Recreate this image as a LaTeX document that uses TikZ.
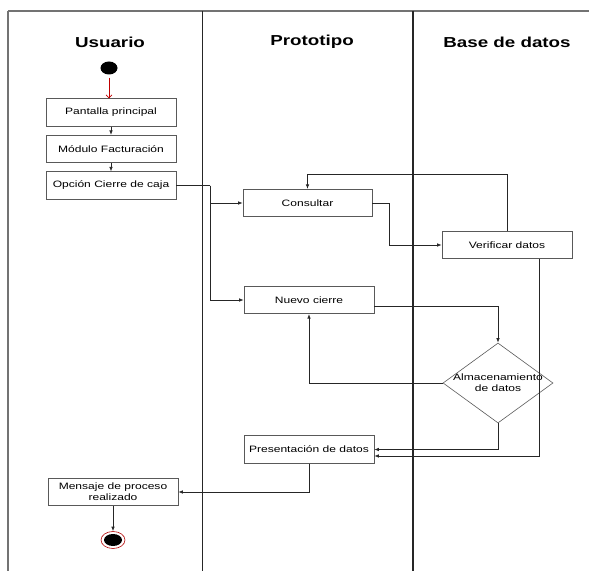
\documentclass[tikz,border=0pt]{standalone}
\usepackage{fontspec}
\setmainfont{Liberation Sans}
\newfontfamily\titlefont[FakeStretch=1.3]{Liberation Sans Bold}
\newfontfamily\bodyfont[FakeStretch=1.3]{Liberation Sans}
\usetikzlibrary{arrows.meta,shapes.geometric}
\begin{document}
\begin{tikzpicture}[x=1bp,y=-1bp,
  title/.style={font=\titlefont\fontsize{14.5}{17}\selectfont, inner sep=0},
  actbox/.style={draw=black!65, line width=0.6bp, minimum width=130bp, minimum height=27.5bp,
    inner sep=0, align=center, font=\bodyfont\fontsize{9.3}{11}\selectfont, fill=white},
  conn/.style={draw=black!85, line width=0.7bp, -{Latex[length=4.5bp,width=3.5bp]}},
  lane/.style={draw=black!85, line width=1.8bp},
  frame/.style={draw=black!55, line width=1.2bp}]
\useasboundingbox (0,0) rectangle (589,571);
% frame and swimlanes
\draw[frame] (8,11) -- (589,11);
\draw[frame] (8,11) -- (8,571);
\draw[lane] (202.5,11) -- (202.5,571);
\draw[lane] (413,11) -- (413,571);
% titles
\node[title] (t1) at (110,42) {Usuario};
\node[title] (t2) at (312,42) {Prototipo};
\node[title] (t3) at (507,42) {Base de datos};
% start
\node[ellipse, fill=black, minimum width=17bp, minimum height=13bp, inner sep=0] (start) at (109,68) {};
% boxes
\node[actbox] (pant) at (111,112.5) {Pantalla principal};
\node[actbox] (mod) at (111,149) {Módulo Facturación};
\node[actbox] (opc) at (111,185.5) {Opción Cierre de caja};
\node[actbox, minimum width=129bp] (cons) at (307.5,203) {Consultar};
\node[actbox] (veri) at (507,245) {Verificar datos};
\node[actbox] (nuevo) at (309,300) {Nuevo cierre};
\node[actbox] (pres) at (309,449.5) {Presentación de datos};
\node[actbox] (mens) at (113,492) {Mensaje de proceso\\realizado};
\node[diamond, draw=black!65, line width=0.6bp, minimum width=110bp, minimum height=80bp, inner sep=0] (diam) at (498,383) {};
\node[font=\bodyfont\fontsize{9.3}{11}\selectfont, align=center, inner sep=0] (diamtxt) at (diam.center) {Almacenamiento\\de datos};
% end
\node[ellipse, draw=red!70!black, line width=0.6bp, fill=white, minimum width=24bp, minimum height=17bp, inner sep=0] (endo) at (113,540) {};
\node[ellipse, fill=black, minimum width=18bp, minimum height=12bp, inner sep=0] (endi) at (endo.center) {};
% coordinates
\coordinate (j) at (210,185.5);
\coordinate (c2) at (389,203);
\coordinate (v1) at (507,174);
\coordinate (v2) at (539,456);
\coordinate (n1) at (498,306);
% connectors
\draw[draw=red!75!black, line width=0.7bp, -{Straight Barb[length=3bp,width=6bp]}] (start.south) ++(0,3) -- (start.south |- pant.north);
\draw[conn] (pant.south) -- (mod.north);
\draw[conn] (mod.south) -- (opc.north);
\draw[draw=black!85, line width=0.7bp] (opc.east) -- (j);
\draw[conn] (j) |- (cons.west);
\draw[conn] (j) |- (nuevo.west);
\draw[conn] (cons.east) -- (c2) |- (veri.west);
\draw[conn] (veri.north) -- (v1) -| (cons.north);
\draw[conn] (veri.south -| v2) -- (v2) -- (pres.east |- v2);
\draw[conn] (nuevo.east |- n1) -- (n1) -- (diam.north);
\draw[conn] (diam.west) -| (nuevo.south);
\draw[conn] (diam.south) |- (pres.east);
\draw[conn] (pres.south) |- (mens.east);
\draw[conn] (mens.south) -- (endo.north);
\end{tikzpicture}
\end{document}
